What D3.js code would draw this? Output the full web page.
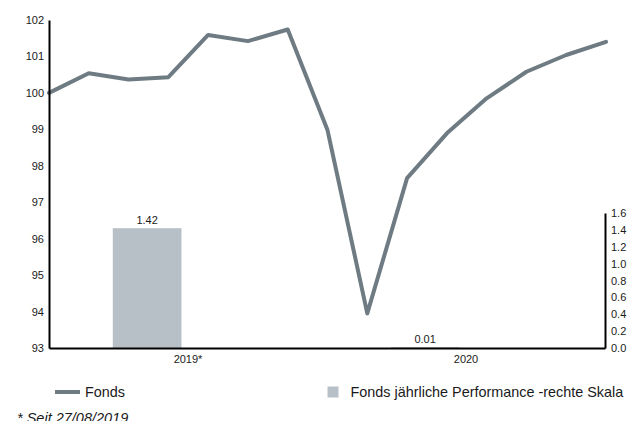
<!DOCTYPE html>
<html>
<head>
<meta charset="utf-8">
<script src="https://d3js.org/d3.v7.min.js"></script>
<style>
  body { margin: 0; background: #fff; }
  svg { display: block; font-family: "Liberation Sans", Arial, sans-serif; }
</style>
</head>
<body>
<svg id="chart" width="629" height="421"></svg>
<script>
// Fonds, indexiert auf 100 (monatlich seit 27/08/2019)
var fondsValues = [100.0, 100.54, 100.37, 100.43, 101.59, 101.42, 101.74, 98.98,
                   93.95, 97.66, 98.89, 99.85, 100.58, 101.04, 101.40];
// jährliche Performance (rechte Skala)
var years = ["2019*", "2020"];
var perfValues = [1.42, 0.01];
var leftTicks = [93, 94, 95, 96, 97, 98, 99, 100, 101, 102];
var rightTicks = [0, 0.2, 0.4, 0.6, 0.8, 1.0, 1.2, 1.4, 1.6];

var lineColor = "#6e7b82", barColor = "#b8c0c7", textColor = "#1a1a1a";
var svg = d3.select("#chart");
var plotLeft = 49, plotRight = 605, plotTop = 20, plotBottom = 348;

var yL = d3.scaleLinear().domain([93, 102]).range([plotBottom, plotTop]);
var yR = d3.scaleLinear().domain([0, 1.6]).range([plotBottom, 213]);
var xLine = d3.scaleLinear().domain([0, fondsValues.length - 1]).range([plotLeft, plotRight + 1]);
var x0 = d3.scaleBand().domain(years).range([plotLeft, plotRight]);
// columns sit in the first slot of a two-slot group
var x1 = d3.scaleBand().domain(["Fonds", "leer"])
  .range([x0.bandwidth() * 0.2, x0.bandwidth() * 0.8]).paddingInner(0.16).paddingOuter(0.1);

// bars
svg.selectAll("rect.bar").data(perfValues).enter().append("rect")
  .attr("class", "bar")
  .attr("x", function (d, i) { return x0(years[i]) + x1("Fonds"); })
  .attr("width", x1.bandwidth())
  .attr("y", function (d) { return yR(d); })
  .attr("height", function (d) { return plotBottom - yR(d); })
  .attr("fill", barColor);

svg.selectAll("text.barlabel").data(perfValues).enter().append("text")
  .attr("class", "barlabel")
  .attr("x", function (d, i) { return x0(years[i]) + x1("Fonds") + x1.bandwidth() / 2; })
  .attr("y", function (d) { return yR(d) - 4; })
  .attr("text-anchor", "middle")
  .attr("font-size", 11).attr("fill", textColor)
  .text(function (d) { return d.toFixed(2); });

// line
svg.append("path").datum(fondsValues)
  .attr("fill", "none").attr("stroke", lineColor).attr("stroke-width", 4)
  .attr("stroke-linejoin", "round").attr("stroke-linecap", "round")
  .attr("d", d3.line().x(function (d, i) { return xLine(i); }).y(function (d) { return yL(d); }));

// axes
var axL = svg.append("g").attr("transform", "translate(" + plotLeft + ",0)")
  .call(d3.axisLeft(yL).tickValues(leftTicks).tickSize(0).tickPadding(5).tickFormat(d3.format("d")));
var axR = svg.append("g").attr("transform", "translate(" + plotRight + ",0)")
  .call(d3.axisRight(yR).tickValues(rightTicks).tickSize(0).tickPadding(6).tickFormat(d3.format(".1f")));
var axB = svg.append("g").attr("transform", "translate(0," + plotBottom + ")")
  .call(d3.axisBottom(x0).tickSize(0).tickPadding(7));
[axL, axR, axB].forEach(function (g) {
  g.select(".domain").attr("stroke", "#000").attr("stroke-width", 2);
  g.selectAll("text").attr("font-size", 11).attr("fill", textColor)
    .attr("font-family", "'Liberation Sans', Arial, sans-serif");
});

// legend
var leg = svg.append("g").attr("font-size", 14.4).attr("fill", textColor);
leg.append("line").attr("x1", 55).attr("x2", 80).attr("y1", 392).attr("y2", 392)
  .attr("stroke", lineColor).attr("stroke-width", 4);
leg.append("text").attr("x", 85).attr("y", 397).text("Fonds");
leg.append("rect").attr("x", 327.5).attr("y", 386.5).attr("width", 11).attr("height", 11).attr("fill", barColor);
leg.append("text").attr("x", 350.5).attr("y", 397).text("Fonds jährliche Performance -rechte Skala");

svg.append("text").attr("x", 17).attr("y", 423).attr("font-size", 14.5).attr("font-style", "italic")
  .attr("fill", textColor).text("* Seit 27/08/2019");
</script>
</body>
</html>
